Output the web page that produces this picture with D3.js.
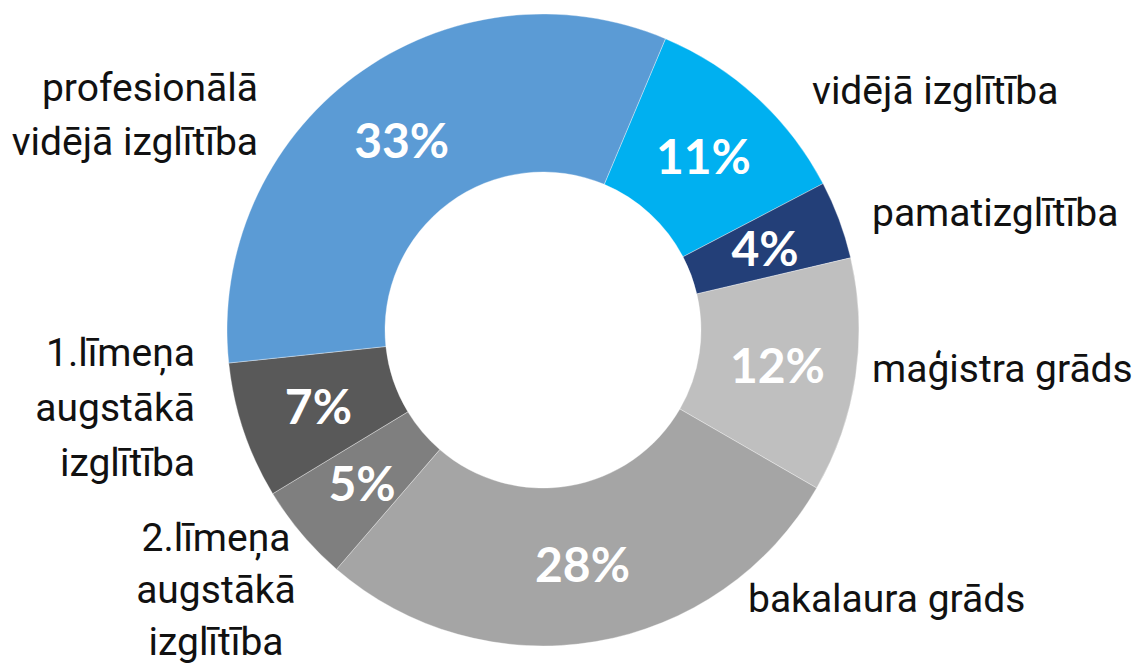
<!DOCTYPE html>
<html>
<head>
<meta charset="utf-8">
<script src="https://cdn.jsdelivr.net/npm/d3@7"></script>
<style>
  body { margin: 0; background: #fff; }
  svg { display: block; }
</style>
</head>
<body>
<script>
// slices in clockwise order, starting from the top-right
const categories = [
  "vidējā izglītība",
  "pamatizglītība",
  "maģistra grāds",
  "bakalaura grāds",
  "2.līmeņa augstākā izglītība",
  "1.līmeņa augstākā izglītība",
  "profesionālā vidējā izglītība"
];
const values = [11, 4, 12, 28, 5, 7, 33];
const percentLabels = ["11%", "4%", "12%", "28%", "5%", "7%", "33%"];
const colors = ["#00b0f0", "#233f78", "#bfbfbf", "#a5a5a5", "#7f7f7f", "#595959", "#5b9bd5"];

// category label lines
const labelLines = [
  ["vidējā izglītība"],
  ["pamatizglītība"],
  ["maģistra grāds"],
  ["bakalaura grāds"],
  ["2.līmeņa", "augstākā", "izglītība"],
  ["1.līmeņa", "augstākā", "izglītība"],
  ["profesionālā", "vidējā izglītība"]
];

// where each category label sits (x, first baseline, anchor, line gap)
const labelPos = [
  { x: 812, y: 104, anchor: "start", gap: 54 },
  { x: 872, y: 226, anchor: "start", gap: 54 },
  { x: 872, y: 382, anchor: "start", gap: 54 },
  { x: 748, y: 612, anchor: "start", gap: 54 },
  { x: 216, y: 551, anchor: "middle", gap: 52 },
  { x: 195, y: 366, anchor: "end", gap: 55 },
  { x: 258, y: 101, anchor: "end", gap: 54 }
];

const width = 1142, height = 666;
const cx = 543, cy = 330;
const outerR = 316, innerR = 158;

const svg = d3.select("body").append("svg")
  .attr("width", width)
  .attr("height", height)
  .style("background-color", "#fff");

const start = 22.8 * Math.PI / 180;
const pie = d3.pie()
  .sort(null)
  .value(d => d)
  .startAngle(start)
  .endAngle(start + 2 * Math.PI);

const arc = d3.arc().innerRadius(innerR).outerRadius(outerR);
const arcs = pie(values);

const g = svg.append("g").attr("transform", `translate(${cx},${cy})`);

g.selectAll("path.slice")
  .data(arcs)
  .enter()
    .append("path")
      .attr("class", "slice")
      .attr("d", arc)
      .attr("fill", (d, i) => colors[i])
      .attr("stroke", "rgba(255,255,255,0.35)")
      .attr("stroke-width", 1);

// white percentages on the ring
g.selectAll("text.pct")
  .data(arcs)
  .enter()
    .append("text")
      .attr("class", "pct")
      .attr("x", d => arc.centroid(d)[0])
      .attr("y", d => arc.centroid(d)[1])
      .attr("text-anchor", "middle")
      .attr("dominant-baseline", "central")
      .style("font-family", "Lato, 'Open Sans', sans-serif")
      .style("font-weight", "bold")
      .style("font-size", "48px")
      .attr("fill", "#fff")
      .text((d, i) => percentLabels[i]);

// category names outside the ring
const cats = svg.selectAll("text.cat")
  .data(categories)
  .enter()
    .append("text")
      .attr("class", "cat")
      .attr("text-anchor", (d, i) => labelPos[i].anchor)
      .style("font-family", "Roboto, sans-serif")
      .style("font-size", "39px")
      .attr("fill", "#111");

cats.each(function (d, i) {
  d3.select(this).selectAll("tspan")
    .data(labelLines[i])
    .enter()
      .append("tspan")
        .attr("x", labelPos[i].x)
        .attr("y", (t, j) => labelPos[i].y + j * labelPos[i].gap)
        .text(t => t);
});
</script>
</body>
</html>
